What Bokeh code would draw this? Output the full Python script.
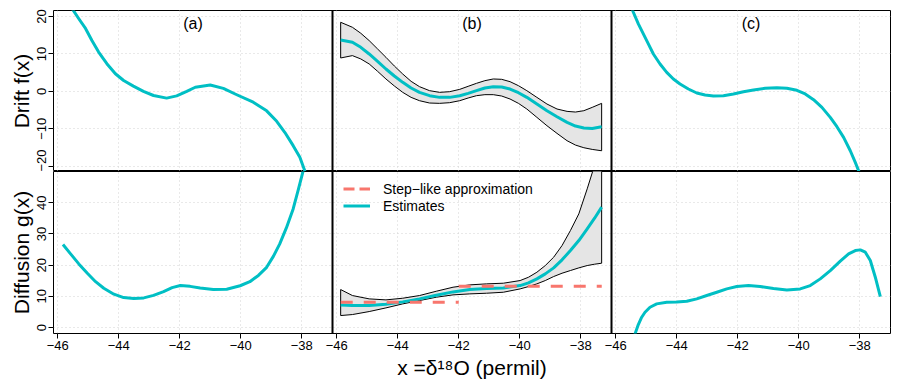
from bokeh.plotting import figure
from bokeh.models import Range1d, FixedTicker, Span, Label, Legend, LegendItem, Grid
from bokeh.layouts import column
from bokeh.embed import file_html
from bokeh.resources import INLINE

FONT = "Liberation Sans"
CYAN = "#00BFC4"
RED = "#F8766D"
BAND = "#E5E5E5"
GRID = "#D3D3D3"

# ---------------- tick labels ----------------
x_ticks = [-46, -44, -42, -40, -38]
x_tick_labels = ["\u221246", "\u221244", "\u221242", "\u221240", "\u221238"]
drift_ticks = [-20, -10, 0, 10, 20]
drift_tick_labels = ["\u221220", "\u221210", "0", "10", "20"]
diff_ticks = [0, 10, 20, 30, 40]
diff_tick_labels = ["0", "10", "20", "30", "40"]
panel_labels = ["(a)", "(b)", "(c)"]

# ---------------- panel (a) ----------------
drift_a_x = [-45.80, -45.53, -45.31, -45.09, -44.88, -44.66, -44.39, -44.11, -43.84, -43.52,
             -43.19, -42.86, -42.43, -42.10, -41.77, -41.49, -41.00, -40.57, -40.13, -39.59,
             -39.15, -38.82, -38.55, -38.28, -38.06, -37.90, -37.60]
drift_a_y = [25.0, 22.1, 19.4, 16.8, 13.6, 10.5, 7.4, 4.7, 2.9, 1.4,
             0.0, -1.1, -1.8, -1.2, 0.0, 1.1, 1.7, 0.8, -0.9, -2.9,
             -5.2, -8.0, -11.0, -14.5, -17.6, -21.2, -27.0]
diff_a_x = [-45.83, -45.58, -45.31, -45.03, -44.76, -44.49, -44.16, -43.84, -43.51, -43.18,
            -42.86, -42.53, -42.25, -41.98, -41.66, -41.33, -40.90, -40.46, -40.02, -39.70,
            -39.42, -39.15, -38.93, -38.72, -38.50, -38.28, -38.12, -37.95, -37.80]
diff_a_y = [26.6, 23.6, 20.4, 17.4, 14.7, 12.6, 10.7, 9.6, 9.3, 9.5,
            10.3, 11.5, 12.8, 13.5, 13.2, 12.7, 12.2, 12.3, 13.4, 14.7,
            16.7, 19.3, 22.8, 26.8, 32.0, 38.0, 43.9, 50.3, 57.0]

# ---------------- panel (b) ----------------
drift_b_x = [-45.872, -45.487, -45.212, -44.937, -44.662, -44.387, -44.112, -43.837, -43.562, -43.287,
             -42.957, -42.627, -42.297, -41.967, -41.692, -41.417, -41.142, -40.867, -40.592, -40.317,
             -40.042, -39.767, -39.437, -39.107, -38.777, -38.447, -38.172, -37.897, -37.622, -37.313]
drift_b_mean = [13.73, 13.11, 11.77, 9.99, 8.03, 5.98, 4.11, 2.41, 0.90, -0.26,
                -1.15, -1.60, -1.60, -1.15, -0.53, 0.19, 0.90, 1.26, 1.17, 0.63,
                -0.35, -1.60, -3.38, -5.16, -6.76, -8.28, -9.26, -9.79, -9.89, -9.44]
drift_b_upper = [18.45, 17.12, 15.52, 13.56, 11.33, 9.10, 6.78, 4.64, 2.68, 1.26,
                 0.19, -0.26, -0.08, 0.54, 1.35, 2.15, 2.86, 3.31, 3.22, 2.59,
                 1.52, 0.19, -1.60, -3.38, -4.71, -5.34, -5.52, -5.16, -4.27, -3.20]
drift_b_lower = [8.92, 9.55, 8.66, 7.32, 5.36, 3.31, 1.44, -0.26, -1.60, -2.49,
                 -3.11, -3.20, -3.02, -2.49, -1.77, -1.15, -0.88, -0.88, -1.24, -2.04,
                 -3.20, -4.71, -6.94, -9.17, -11.22, -13.18, -14.34, -15.05, -15.50, -15.86]

diff_b_x = [-45.872, -45.487, -44.937, -44.387, -43.837, -43.287, -42.737, -42.187, -41.637, -41.087,
            -40.537, -39.987, -39.712, -39.437, -39.162, -38.887, -38.612, -38.337, -38.062, -37.787,
            -37.545, -37.313]
diff_b_mean = [7.26, 7.05, 7.05, 7.48, 8.23, 9.19, 10.36, 11.43, 12.18, 12.50,
               12.71, 13.46, 14.32, 15.60, 17.20, 19.12, 21.69, 24.68, 27.88, 31.62,
               35.04, 38.57]
diff_b_upper = [12.18, 10.26, 9.19, 8.87, 9.40, 10.26, 11.64, 12.93, 13.68, 14.00,
                14.21, 15.06, 16.13, 17.73, 19.87, 22.54, 26.28, 31.09, 36.43, 44.44,
                52.0, 59.0]
diff_b_lower = [3.85, 4.17, 5.13, 6.30, 7.59, 8.65, 9.72, 10.47, 10.79, 11.00,
                11.32, 12.39, 13.14, 14.00, 15.06, 16.35, 17.41, 18.27, 19.12, 19.87,
                20.30, 20.62]

step_breaks = [-45.87, -42.0, -37.31]
step_levels = [8.1, 13.2]

# ---------------- panel (c) ----------------
drift_c_x = [-45.85, -45.424, -45.260, -45.096, -44.932, -44.767, -44.548, -44.329, -44.111, -43.892,
             -43.618, -43.344, -43.071, -42.797, -42.469, -42.140, -41.812, -41.483, -41.100, -40.717,
             -40.389, -40.060, -39.787, -39.513, -39.239, -38.965, -38.747, -38.528, -38.309, -38.145,
             -38.035, -37.60]
drift_c_y = [30.0, 21.13, 18.01, 15.34, 12.67, 9.99, 7.32, 5.09, 3.31, 1.97,
             0.63, -0.44, -0.97, -1.24, -1.15, -0.70, -0.08, 0.37, 0.81, 0.99,
             0.81, 0.28, -0.70, -2.22, -4.27, -6.94, -9.44, -12.29, -15.86, -18.98,
             -21.20, -31.0]
diff_c_x = [-45.85, -45.369, -45.260, -45.150, -45.041, -44.877, -44.658, -44.329, -44.001, -43.673,
            -43.344, -43.016, -42.687, -42.359, -42.031, -41.648, -41.264, -40.827, -40.389, -39.951,
            -39.622, -39.294, -38.965, -38.637, -38.364, -38.145, -37.980, -37.816, -37.652, -37.488,
            -37.324]
diff_c_y = [-15.0, -2.03, 0.96, 3.31, 4.91, 6.52, 7.59, 8.12, 8.23, 8.44,
            9.19, 10.26, 11.32, 12.39, 13.14, 13.46, 13.14, 12.50, 12.07, 12.39,
            13.46, 15.60, 18.27, 21.26, 23.61, 24.68, 24.89, 24.14, 21.47, 16.13,
            9.94]

# ---------------- layout constants ----------------
X_LO, X_SPAN = -46.14, 9.15          # per-panel x extent
DRIFT_LIM = (-21.4, 21.6)
DIFF_LIM = (-1.9, 50.0)
RANGE_NAMES = ["default", "b", "c"]


def style_axis(ax):
    ax.axis_line_color = None
    ax.major_tick_line_color = "black"
    ax.major_tick_out = 5
    ax.major_tick_in = 0
    ax.minor_tick_line_color = None
    ax.major_label_standoff = 2
    ax.major_label_text_font = FONT
    ax.major_label_text_font_size = "13px"
    ax.major_label_text_color = "black"
    ax.axis_label_text_font = FONT
    ax.axis_label_text_font_size = "21px"
    ax.axis_label_text_font_style = "normal"
    ax.axis_label_text_color = "black"
    ax.axis_label_standoff = 2


def make_row(height, ylim, yticks, ylabels, ylabel, top, bottom, show_x):
    p = figure(width=898, height=height,
               x_range=Range1d(X_LO, X_LO + 3 * X_SPAN),
               y_range=Range1d(*ylim),
               x_axis_location="below" if show_x else None,
               y_axis_location="left",
               output_backend="svg", toolbar_location=None,
               min_border_left=53, min_border_right=8,
               min_border_top=top, min_border_bottom=bottom)
    p.extra_x_ranges = {"b": Range1d(X_LO - X_SPAN, X_LO + 2 * X_SPAN),
                        "c": Range1d(X_LO - 2 * X_SPAN, X_LO + X_SPAN)}
    p.grid.visible = False
    p.background_fill_color = "white"
    p.border_fill_color = "white"
    p.outline_line_color = "black"
    p.outline_line_width = 1
    p.outline_line_alpha = 1

    for name in RANGE_NAMES:
        p.add_layout(Grid(dimension=0, ticker=FixedTicker(ticks=x_ticks), x_range_name=name,
                          grid_line_color=GRID, grid_line_dash="1 3", grid_line_width=1))
    p.add_layout(Grid(dimension=1, ticker=FixedTicker(ticks=yticks),
                      grid_line_color=GRID, grid_line_dash="1 3", grid_line_width=1))

    for k in (1, 2):
        p.add_layout(Span(location=X_LO + k * X_SPAN, dimension="height",
                          line_color="black", line_width=2))

    ya = p.yaxis[0]
    ya.ticker = FixedTicker(ticks=yticks)
    ya.major_label_overrides = {t: s for t, s in zip(yticks, ylabels)}
    ya.major_label_orientation = "vertical"
    ya.axis_label = ylabel
    style_axis(ya)

    if show_x:
        xa = p.xaxis[0]
        pos = [t + k * X_SPAN for k in range(3) for t in x_ticks]
        labs = [s for k in range(3) for s in x_tick_labels]
        xa.ticker = FixedTicker(ticks=pos)
        xa.major_label_overrides = {t: s for t, s in zip(pos, labs)}
        xa.axis_label = "x =\u03b4\u00b9\u2078O (permil)"
        style_axis(xa)
        xa.axis_label_standoff = 3
    return p


top = make_row(171, DRIFT_LIM, drift_ticks, drift_tick_labels, "Drift f(x)", 10, 0, False)
bot = make_row(213, DIFF_LIM, diff_ticks, diff_tick_labels, "Diffusion g(x)", 0, 51, True)

# panel titles
for name, lab in zip(RANGE_NAMES, panel_labels):
    top.add_layout(Label(x=X_LO + X_SPAN / 2, x_range_name=name, y=148, y_units="screen",
                         text=lab, text_align="center", text_baseline="middle",
                         text_font=FONT, text_font_size="16px", text_color="black"))

# ---------- top row: drift ----------
top.line(drift_a_x, drift_a_y, line_color=CYAN, line_width=3, line_join="round")
top.patch(drift_b_x + drift_b_x[::-1], drift_b_upper + drift_b_lower[::-1],
          fill_color=BAND, line_color="black", line_width=1, x_range_name="b")
top.line(drift_b_x, drift_b_mean, line_color=CYAN, line_width=3, line_join="round", x_range_name="b")
top.line(drift_c_x, drift_c_y, line_color=CYAN, line_width=3, line_join="round", x_range_name="c")

# ---------- bottom row: diffusion ----------
bot.line(diff_a_x, diff_a_y, line_color=CYAN, line_width=3, line_join="round")
bot.patch(diff_b_x + diff_b_x[::-1], diff_b_upper + diff_b_lower[::-1],
          fill_color=BAND, line_color="black", line_width=1, x_range_name="b")
est = bot.line(diff_b_x, diff_b_mean, line_color=CYAN, line_width=3, line_join="round",
               x_range_name="b")
step_xs = [[step_breaks[i], step_breaks[i + 1]] for i in range(len(step_levels))]
step_ys = [[v, v] for v in step_levels]
step = bot.multi_line(step_xs, step_ys, line_color=RED, line_width=3, line_dash="12 11",
                      x_range_name="b")
bot.line(diff_c_x, diff_c_y, line_color=CYAN, line_width=3, line_join="round", x_range_name="c")

# hidden twin of the step line, used only for the legend key (shorter dash pattern)
step_key = bot.multi_line(step_xs, step_ys, line_color=RED, line_width=3, line_dash="11 5",
                          x_range_name="b", visible=False)

legend = Legend(items=[LegendItem(label="Step\u2212like approximation", renderers=[step_key]),
                       LegendItem(label="Estimates", renderers=[est])],
                location=(290, 119), orientation="vertical",
                border_line_color=None, background_fill_alpha=0,
                inactive_fill_alpha=0,
                padding=0, margin=0, spacing=0,
                glyph_width=27, glyph_height=17, label_height=17, label_standoff=13,
                label_text_font=FONT, label_text_font_size="14px", label_text_color="black")
bot.add_layout(legend)

layout = column(top, bot)
open("out.html", "w").write(file_html(layout, INLINE))
